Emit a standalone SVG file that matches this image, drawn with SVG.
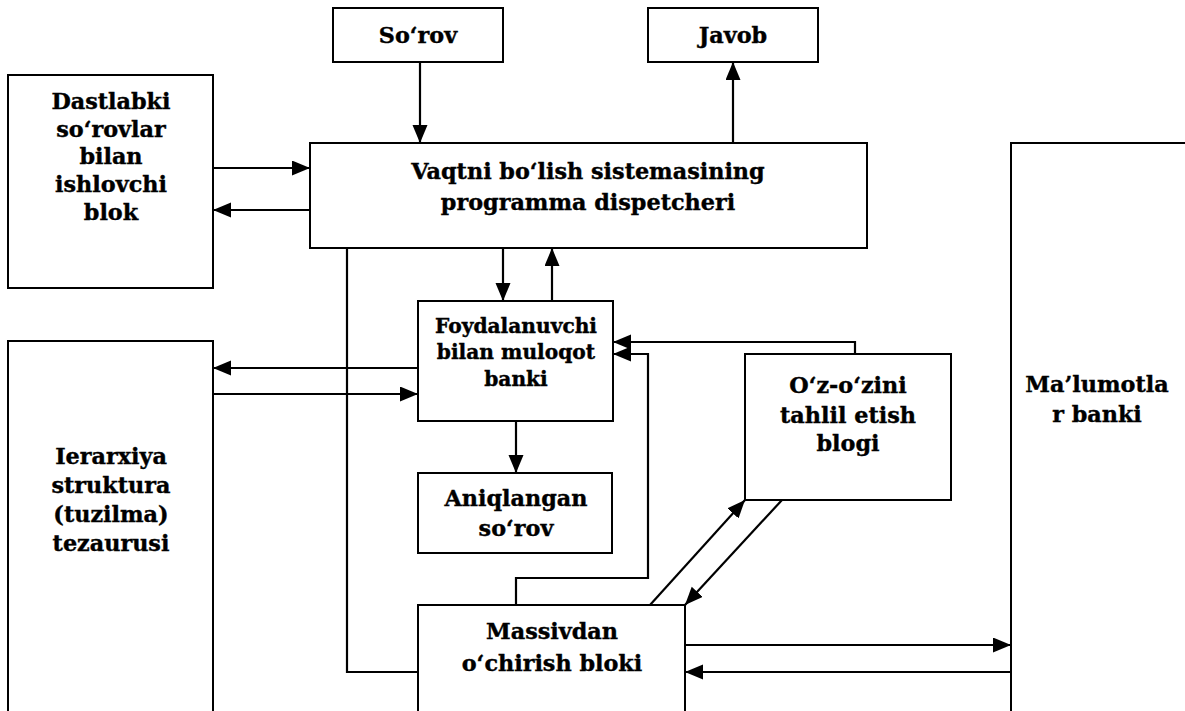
<svg xmlns="http://www.w3.org/2000/svg" width="1185" height="711" viewBox="0 0 1185 711">
  <style>
    .box { fill: #ffffff; stroke: #000000; stroke-width: 2; }
    .lbl { font-family: "DejaVu Serif", "Liberation Serif", serif; font-weight: bold; font-size: 22.3px; fill: #000000; stroke: #000000; stroke-width: 0.4px; text-anchor: middle; }
    .sm { font-size: 20.2px; }
    .wire { fill: none; stroke: #000000; stroke-width: 2.2; }
    .arr { marker-end: url(#head); }
  </style>
  <defs>
    <marker id="head" markerUnits="userSpaceOnUse" markerWidth="19" markerHeight="16" refX="18" refY="7.5" orient="auto">
      <path d="M0,0 L18,7.5 L0,15 z" fill="#000000"/>
    </marker>
  </defs>
  <rect width="1185" height="711" fill="#ffffff"/>

  <!-- connectors -->
  <g id="connectors">
    <path class="wire arr" d="M420,62 V143"/>
    <path class="wire arr" d="M733,143 V62"/>
    <path class="wire arr" d="M213,168 H310"/>
    <path class="wire arr" d="M310,210 H213"/>
    <path class="wire arr" d="M503,248 V301"/>
    <path class="wire arr" d="M552,301 V248"/>
    <path class="wire arr" d="M418,368 H213"/>
    <path class="wire arr" d="M213,394 H418"/>
    <path class="wire arr" d="M516,421 V473"/>
    <path class="wire" d="M347,248 V672 H418"/>
    <path class="wire arr" d="M516,605 V578 H648 V354 H613"/>
    <path class="wire arr" d="M855,354 V342 H613"/>
    <path class="wire arr" d="M650,605 L745,500"/>
    <path class="wire arr" d="M782,500 L685,605"/>
    <path class="wire arr" d="M685,645 H1011"/>
    <path class="wire arr" d="M1011,672 H685"/>
  </g>

  <g id="sorov">
    <rect class="box" x="333" y="8" width="170" height="54"/>
    <text class="lbl" x="418" y="43">So‘rov</text>
  </g>

  <g id="javob">
    <rect class="box" x="648" y="8" width="170" height="54"/>
    <text class="lbl" x="733" y="43">Javob</text>
  </g>

  <g id="dastlabki">
    <rect class="box" x="8" y="75" width="205" height="213"/>
    <text class="lbl" x="111" y="109">Dastlabki</text>
    <text class="lbl" x="111" y="137">so‘rovlar</text>
    <text class="lbl" x="111" y="164">bilan</text>
    <text class="lbl" x="111" y="192">ishlovchi</text>
    <text class="lbl" x="111" y="220">blok</text>
  </g>

  <g id="dispetcher">
    <rect class="box" x="310" y="143" width="557" height="105"/>
    <text class="lbl" x="588" y="179">Vaqtni bo‘lish sistemasining</text>
    <text class="lbl" x="588" y="210">programma dispetcheri</text>
  </g>

  <g id="foydalanuvchi">
    <rect class="box" x="418" y="301" width="195" height="120"/>
    <text class="lbl sm" x="516" y="333">Foydalanuvchi</text>
    <text class="lbl sm" x="516" y="359">bilan muloqot</text>
    <text class="lbl sm" x="516" y="386">banki</text>
  </g>

  <g id="aniqlangan">
    <rect class="box" x="418" y="473" width="194" height="80"/>
    <text class="lbl" x="516" y="506">Aniqlangan</text>
    <text class="lbl" x="516" y="536">so‘rov</text>
  </g>

  <g id="ierarxiya">
    <rect class="box" x="8" y="341" width="205" height="380"/>
    <text class="lbl" x="111" y="464">Ierarxiya</text>
    <text class="lbl" x="111" y="493">struktura</text>
    <text class="lbl" x="111" y="522">(tuzilma)</text>
    <text class="lbl" x="111" y="551">tezaurusi</text>
  </g>

  <g id="oz-tahlil">
    <rect class="box" x="745" y="354" width="206" height="146"/>
    <text class="lbl" x="848" y="393">O‘z-o‘zini</text>
    <text class="lbl" x="848" y="423">tahlil etish</text>
    <text class="lbl" x="848" y="451">blogi</text>
  </g>

  <g id="massivdan">
    <rect class="box" x="418" y="605" width="267" height="120"/>
    <text class="lbl" x="552" y="639">Massivdan</text>
    <text class="lbl" x="552" y="671">o‘chirish bloki</text>
  </g>

  <g id="malumotlar">
    <rect class="box" x="1011" y="143" width="190" height="590"/>
    <text class="lbl" x="1097" y="392">Ma’lumotla</text>
    <text class="lbl" x="1097" y="422">r banki</text>
  </g>
</svg>
